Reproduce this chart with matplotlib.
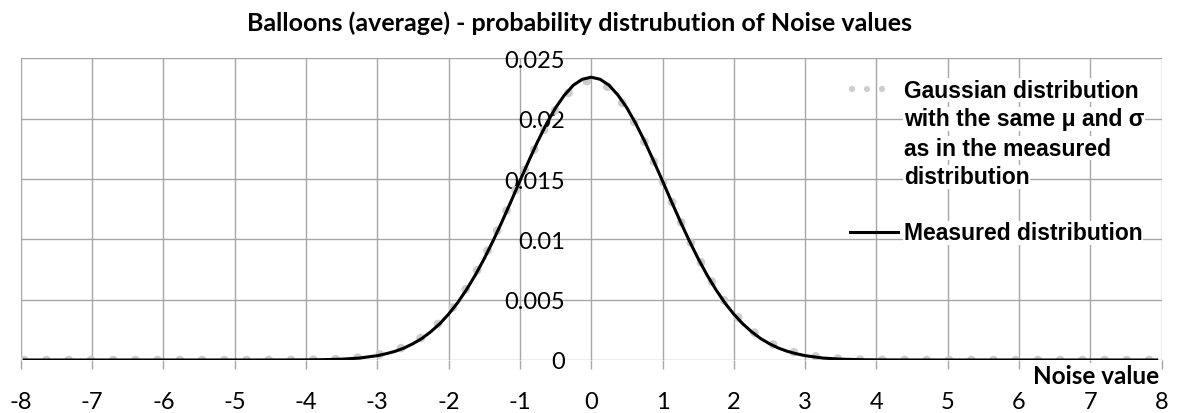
"""Balloons (average) - noise value distribution vs Gaussian fit"""
import matplotlib
matplotlib.use("Agg")
import matplotlib.pyplot as plt
from matplotlib.lines import Line2D

plt.rcParams['axes.unicode_minus'] = False

W, H = 1178, 414

# noise values (x) shared by both series
noise_x = [-7.95, -7, -6, -5, -4.5, -4, -3.75, -3.5, -3.25,
           -3, -2.875, -2.75, -2.625, -2.5, -2.375, -2.25, -2.125, -2, -1.875,
           -1.75, -1.625, -1.5, -1.375, -1.25, -1.125, -1, -0.875, -0.75, -0.625,
           -0.5, -0.375, -0.25, -0.125, 0, 0.125, 0.25, 0.375, 0.5, 0.625,
           0.75, 0.875, 1, 1.125, 1.25, 1.375, 1.5, 1.625, 1.75, 1.875,
           2, 2.125, 2.25, 2.375, 2.5, 2.625, 2.75, 2.875, 3,
           3.25, 3.5, 3.75, 4, 4.5, 5, 6, 7, 7.93]

# gaussian with same mu / sigma (dotted grey)
gauss_y = [0, 0, 0, 0, 0.000003, 0.00002, 0.00004, 0.00010, 0.00021,
           0.00042, 0.00059, 0.00080, 0.00108, 0.00144, 0.00188, 0.00244, 0.00311, 0.00391, 0.00485,
           0.00594, 0.00716, 0.00852, 0.01000, 0.01157, 0.01321, 0.01487, 0.01650, 0.01806, 0.01950,
           0.02076, 0.02179, 0.02256, 0.02304, 0.02320, 0.02304, 0.02256, 0.02179, 0.02076, 0.01950,
           0.01806, 0.01650, 0.01487, 0.01321, 0.01157, 0.01000, 0.00852, 0.00716, 0.00594, 0.00485,
           0.00391, 0.00311, 0.00244, 0.00188, 0.00144, 0.00108, 0.00080, 0.00059, 0.00042,
           0.00021, 0.00010, 0.00004, 0.00002, 0.000003, 0, 0, 0, 0]

# measured distribution (black)
measured_y = [0, 0, 0, 0, 0.000002, 0.00001, 0.00003, 0.00007, 0.00016,
              0.00036, 0.00052, 0.00072, 0.00099, 0.00135, 0.00178, 0.00234, 0.00300, 0.00380, 0.00473,
              0.00582, 0.00704, 0.00840, 0.00989, 0.01148, 0.01314, 0.01484, 0.01651, 0.01812, 0.01960,
              0.02090, 0.02196, 0.02278, 0.02327, 0.02344, 0.02327, 0.02278, 0.02196, 0.02090, 0.01960,
              0.01812, 0.01651, 0.01484, 0.01314, 0.01148, 0.00989, 0.00840, 0.00704, 0.00582, 0.00473,
              0.00380, 0.00300, 0.00234, 0.00178, 0.00135, 0.00099, 0.00072, 0.00052, 0.00036,
              0.00016, 0.00007, 0.00003, 0.00001, 0.000002, 0, 0, 0, 0]

x_ticks = list(range(-8, 9))
y_ticks = [0, 0.005, 0.01, 0.015, 0.02, 0.025]
y_labels = ['0', '0.005', '0.01', '0.015', '0.02', '0.025']

legend_lines = ['Gaussian distribution', 'with the same \u03bc and \u03c3',
                'as in the measured', 'distribution']

GRID = '#a6a6a6'
DOT = '#cdcdcd'


def fx(px):
    return px / W


def fy(py):
    return 1 - py / H


fig = plt.figure(figsize=(W / 100, H / 100), dpi=100)
ax = fig.add_axes([fx(20.7), fy(361), fx(1161.7) - fx(20.7), fy(59.4) - fy(361)])

ax.plot(noise_x, gauss_y, color=DOT, lw=6.3, dashes=(0.001, 2.54),
        dash_capstyle='round', solid_capstyle='round', zorder=2)
ax.plot(noise_x, measured_y, color='black', lw=2.2, zorder=3)

ax.set_xlim(-8, 8)
ax.set_ylim(0, 0.025)
ax.set_xticks(x_ticks)
ax.set_yticks(y_ticks)
ax.set_yticklabels(y_labels)
ax.grid(True, color=GRID, lw=1.0, zorder=0)
ax.set_axisbelow(True)
for s in ax.spines.values():
    s.set_visible(False)
ax.spines['left'].set_position(('data', 0))
ax.tick_params(axis='y', length=0, pad=19, labelsize=17)
ax.tick_params(axis='x', length=6.5, width=1, color=GRID, pad=16, labelsize=17)
for lab in ax.get_xticklabels() + ax.get_yticklabels():
    lab.set_fontfamily('Lato')

fig.text(fx(579.5), fy(23), 'Balloons (average) - probability distrubution of Noise values',
         ha='center', va='center', fontsize=18, fontweight='bold', family='Lato')

fig.text(fx(1159), fy(377), 'Noise value', ha='right', va='center', fontsize=17.5,
         fontweight='bold', family='Lato',
         bbox=dict(fc='white', ec='none', pad=1))

# legend, drawn by hand like the Excel one
for i, txt in enumerate(legend_lines):
    fig.text(fx(904), fy(91 + 29 * i), txt, ha='left', va='center', fontsize=16.5,
             fontweight='bold', family='Liberation Sans',
             bbox=dict(fc='white', ec='none', pad=0.5))
fig.add_artist(Line2D([fx(851.7), fx(883)], [fy(90), fy(90)], transform=fig.transFigure,
                      color=DOT, lw=4.5, dashes=(0.001, 2.4), dash_capstyle='round'))
fig.text(fx(904), fy(234), 'Measured distribution', ha='left', va='center', fontsize=16.5,
         fontweight='bold', family='Liberation Sans',
         bbox=dict(fc='white', ec='none', pad=0.5))
fig.add_artist(Line2D([fx(850), fx(898)], [fy(233), fy(233)], transform=fig.transFigure,
                      color='black', lw=2.2))

fig.savefig('out.png', dpi=100)
